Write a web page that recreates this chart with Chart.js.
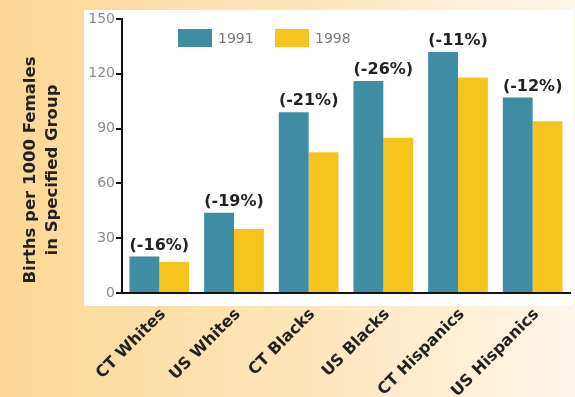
<!DOCTYPE html>
<html>
<head>
<meta charset="utf-8">
<script src="https://cdn.jsdelivr.net/npm/chart.js@4.4.1/dist/chart.umd.min.js"></script>
<style>
  html, body { margin: 0; padding: 0; }
  #chart { display: block; }
</style>
</head>
<body>
<canvas id="chart" width="575" height="397"></canvas>
<script>
const groups = ['CT Whites', 'US Whites', 'CT Blacks', 'US Blacks', 'CT Hispanics', 'US Hispanics'];
const years = ['1991', '1998'];
const rate1991 = [20, 44, 99, 116, 132, 107];
const rate1998 = [17, 35, 77, 85, 118, 94];
const changeLabels = ['(-16%)', '(-19%)', '(-21%)', '(-26%)', '(-11%)', '(-12%)'];
const yTicks = [0, 30, 60, 90, 120, 150];
const yTitle = ['Births per 1000 Females', 'in Specified Group'];

const TEAL = '#3f8da3';
const GOLD = '#f6c41c';
const FONT = "'DejaVu Sans', sans-serif";

// orange backdrop + white panel behind the plot
const backdrop = {
  id: 'backdrop',
  beforeDraw(chart) {
    const { ctx, chartArea: a, width, height } = chart;
    ctx.save();
    const g = ctx.createLinearGradient(0, 0, width, 0);
    g.addColorStop(0, '#fcd795');
    g.addColorStop(0.55, '#fde6bd');
    g.addColorStop(1, '#fff6ea');
    ctx.fillStyle = g;
    ctx.fillRect(0, 0, width, height);
    ctx.fillStyle = '#ffffff';
    ctx.fillRect(a.left - 38, a.top - 9, a.right - a.left + 41, a.bottom - a.top + 22);
    ctx.restore();
  }
};

// y title, legend and % change labels
const extras = {
  id: 'extras',
  afterDatasetsDraw(chart) {
    const { ctx, chartArea: a } = chart;
    ctx.save();

    ctx.fillStyle = '#222';
    ctx.font = 'bold 16.5px ' + FONT;
    ctx.textAlign = 'center';
    ctx.textBaseline = 'middle';
    yTitle.forEach((line, i) => {
      ctx.save();
      ctx.translate(31 + i * 22, 170);
      ctx.rotate(-Math.PI / 2);
      ctx.fillText(line, 0, 0);
      ctx.restore();
    });

    // legend
    const lx = a.left + 56, ly = a.top + 10;
    const colors = [TEAL, GOLD];
    ctx.font = '14px ' + FONT;
    ctx.textAlign = 'left';
    years.forEach((y, i) => {
      const x = lx + i * 97;
      ctx.fillStyle = colors[i];
      ctx.fillRect(x, ly, 34, 18);
      ctx.fillStyle = '#7a7a7a';
      ctx.fillText(y, x + 40, ly + 10);
    });

    // % change above each pair
    const m0 = chart.getDatasetMeta(0), m1 = chart.getDatasetMeta(1);
    ctx.fillStyle = '#222';
    ctx.font = 'bold 16px ' + FONT;
    ctx.textAlign = 'center';
    ctx.textBaseline = 'bottom';
    changeLabels.forEach((t, i) => {
      const b0 = m0.data[i], b1 = m1.data[i];
      ctx.fillText(t, (b0.x + b1.x) / 2, b0.y - 3);
    });
    ctx.restore();
  }
};

new Chart(document.getElementById('chart'), {
  type: 'bar',
  data: {
    labels: groups,
    datasets: [
      { label: years[0], data: rate1991, backgroundColor: TEAL },
      { label: years[1], data: rate1998, backgroundColor: GOLD }
    ]
  },
  options: {
    responsive: false,
    animation: false,
    layout: { padding: { top: 19, right: 5, left: 0, bottom: 0 } },
    datasets: { bar: { categoryPercentage: 0.8, barPercentage: 1.0 } },
    plugins: { legend: { display: false }, tooltip: { enabled: false } },
    scales: {
      x: {
        grid: { display: false },
        border: { color: '#111', width: 2 },
        ticks: {
          color: '#222',
          font: { family: FONT, size: 16, weight: 'bold' },
          maxRotation: 45, minRotation: 45, padding: 4, labelOffset: 4
        },
        afterFit(s) { s.height = 104; }
      },
      y: {
        min: 0, max: 150,
        afterBuildTicks(s) { s.ticks = yTicks.map(v => ({ value: v })); },
        grid: { drawOnChartArea: false, color: '#111', tickLength: 6, lineWidth: 2 },
        border: { color: '#111', width: 2 },
        ticks: { color: '#8a8a8a', font: { family: FONT, size: 14 }, padding: 1 },
        afterFit(s) { s.width = 122; }
      }
    }
  },
  plugins: [backdrop, extras]
});
</script>
</body>
</html>
